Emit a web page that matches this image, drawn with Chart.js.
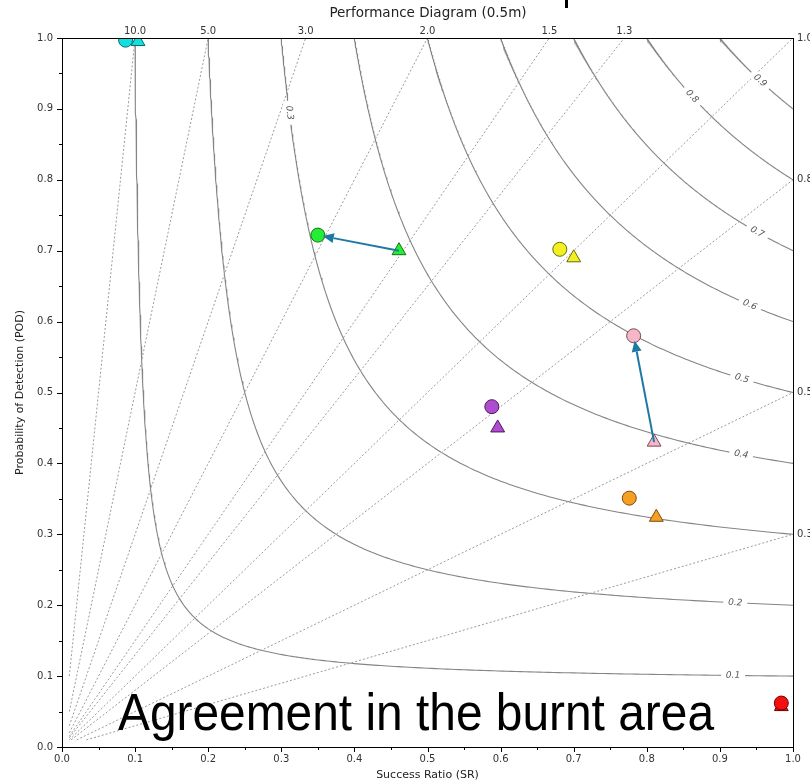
<!DOCTYPE html>
<html>
<head>
<meta charset="utf-8">
<script src="https://cdn.jsdelivr.net/npm/chart.js@4.4.1/dist/chart.umd.min.js"></script>
<style>
  html, body { margin: 0; padding: 0; background: #fff; }
  #wrap { width: 810px; height: 783px; position: relative; }
</style>
</head>
<body>
<div id="wrap"><canvas id="chart" width="810" height="783"></canvas></div>
<script>
// Levels of the background diagram
const csiLevels = [0.1, 0.2, 0.3, 0.4, 0.5, 0.6, 0.7, 0.8, 0.9];
const csiLabelSR = [0.918, 0.921, 0.311, 0.929, 0.930, 0.941, 0.951, 0.862, 0.955];
const biasLevels = [10.0, 5.0, 3.0, 2.0, 1.5, 1.3, 1.0, 0.8, 0.5, 0.3];
const biasLabels = ["10.0", "5.0", "3.0", "2.0", "1.5", "1.3", "1.0", "0.8", "0.5", "0.3"];

// Experiments (circle = one run, triangle = the other)
const groups = ["cyan", "green", "yellow", "pink", "purple", "orange", "red"];
const fillColors = ["#10e0e0", "#22ee33", "#f2f020", "#f6b8c8", "#b04cd0", "#f5a020", "#f41010"];
const edgeColors = ["#0a6a70", "#1a6a1a", "#6a6a10", "#7a4a58", "#4a1a5a", "#7a4a10", "#700000"];
const circleSR  = [0.087, 0.350, 0.681, 0.782, 0.588, 0.776, 0.984];
const circlePOD = [0.997, 0.722, 0.702, 0.580, 0.480, 0.351, 0.062];
const triSR     = [0.104, 0.461, 0.700, 0.810, 0.596, 0.813, 0.984];
const triPOD    = [0.995, 0.700, 0.690, 0.430, 0.450, 0.324, 0.057];
const arrowGroups = ["green", "pink"];

const xTicks = [0, 0.1, 0.2, 0.3, 0.4, 0.5, 0.6, 0.7, 0.8, 0.9, 1.0];
const yTicks = [0, 0.1, 0.2, 0.3, 0.4, 0.5, 0.6, 0.7, 0.8, 0.9, 1.0];

function csiPod(c, sr) {
  return 1 / (1 / c + 1 - 1 / sr);
}

const datasets = [];

// CSI curves
csiLevels.forEach(function (c) {
  const pts = [];
  const n = 300;
  for (let i = 0; i <= n; i++) {
    const t = i / n;
    const sr = c + (1 - c) * t * t * t;
    pts.push({ x: sr, y: csiPod(c, sr) });
  }
  datasets.push({
    type: "line",
    data: pts,
    borderColor: "#858585",
    borderWidth: 1.1,
    pointRadius: 0,
    fill: false,
    tension: 0,
    order: 10,
    kind: "line",
  });
});

// Bias lines
biasLevels.forEach(function (b) {
  const start = b >= 1 ? { x: 0.01, y: 0.01 * b } : { x: 0.01 / b, y: 0.01 };
  const end = b >= 1 ? { x: 1 / b, y: 1 } : { x: 1, y: b };
  datasets.push({
    type: "line",
    data: [start, end],
    borderColor: "#9a9a9a",
    borderWidth: 1,
    borderDash: [2, 2],
    pointRadius: 0,
    fill: false,
    order: 9,
    kind: "line",
  });
});

// Triangles, then circles on top
groups.forEach(function (g, i) {
  datasets.push({
    type: "scatter",
    data: [{ x: triSR[i], y: triPOD[i] }],
    pointStyle: "triangle",
    pointRadius: 8,
    backgroundColor: fillColors[i],
    borderColor: edgeColors[i],
    borderWidth: 1,
    order: 2,
    kind: "marker",
  });
});
groups.forEach(function (g, i) {
  datasets.push({
    type: "scatter",
    data: [{ x: circleSR[i], y: circlePOD[i] }],
    pointStyle: "circle",
    pointRadius: 7,
    backgroundColor: fillColors[i],
    borderColor: edgeColors[i],
    borderWidth: 1,
    order: 1,
    kind: "marker",
  });
});

let labelsDrawn = false;

const diagramPlugin = {
  id: "diagram",
  beforeDatasetsDraw() {
    labelsDrawn = false;
  },
  beforeDatasetDraw(chart, args) {
    const ds = chart.data.datasets[args.index];
    if (ds.kind !== "marker" || labelsDrawn) return;
    labelsDrawn = true;
    const ctx = chart.ctx;
    const xs = chart.scales.x;
    const ys = chart.scales.y;
    // CSI contour labels (inline, with the curve cut under them)
    ctx.save();
    ctx.font = "italic 9px 'DejaVu Sans'";
    ctx.textAlign = "center";
    ctx.textBaseline = "middle";
    csiLevels.forEach(function (c, i) {
      const sr = csiLabelSR[i];
      const px = xs.getPixelForValue(sr);
      const py = ys.getPixelForValue(csiPod(c, sr));
      const ax = xs.getPixelForValue(sr - 0.003), ay = ys.getPixelForValue(csiPod(c, sr - 0.003));
      const bx = xs.getPixelForValue(sr + 0.003), by = ys.getPixelForValue(csiPod(c, sr + 0.003));
      const ang = Math.atan2(by - ay, bx - ax);
      ctx.save();
      ctx.translate(px, py);
      ctx.rotate(ang);
      ctx.fillStyle = "#fff";
      ctx.fillRect(-12, -5, 24, 10);
      ctx.fillStyle = "#555";
      ctx.fillText(c.toFixed(1), 0, 0);
      ctx.restore();
    });
    ctx.restore();
  },
  afterDatasetsDraw(chart) {
    const ctx = chart.ctx;
    const xs = chart.scales.x;
    const ys = chart.scales.y;
    const area = chart.chartArea;

    // arrows from triangle to circle
    ctx.save();
    ctx.strokeStyle = "#1f78a4";
    ctx.fillStyle = "#1f78a4";
    ctx.lineWidth = 2;
    arrowGroups.forEach(function (g) {
      const i = groups.indexOf(g);
      const x0 = xs.getPixelForValue(triSR[i]), y0 = ys.getPixelForValue(triPOD[i]);
      const x1 = xs.getPixelForValue(circleSR[i]), y1 = ys.getPixelForValue(circlePOD[i]);
      const ang = Math.atan2(y1 - y0, x1 - x0);
      const tipX = x1 - Math.cos(ang) * 5, tipY = y1 - Math.sin(ang) * 5;
      const headLen = 11, headW = 5;
      const bx = tipX - Math.cos(ang) * headLen, by = tipY - Math.sin(ang) * headLen;
      ctx.beginPath();
      ctx.moveTo(x0, y0);
      ctx.lineTo(bx, by);
      ctx.stroke();
      ctx.beginPath();
      ctx.moveTo(tipX, tipY);
      ctx.lineTo(bx - Math.sin(ang) * headW, by + Math.cos(ang) * headW);
      ctx.lineTo(bx + Math.sin(ang) * headW, by - Math.cos(ang) * headW);
      ctx.closePath();
      ctx.fill();
    });
    ctx.restore();

    // frame
    ctx.save();
    ctx.strokeStyle = "#000";
    ctx.lineWidth = 1;
    ctx.strokeRect(Math.round(area.left) + 0.5, Math.round(area.top) + 0.5,
      Math.round(area.right - area.left), Math.round(area.bottom - area.top));

    // major and minor ticks on the left and bottom
    ctx.beginPath();
    for (let k = 0; k <= 20; k++) {
      const v = k / 20;
      const len = k % 2 === 0 ? 5 : 3;
      const px = Math.round(xs.getPixelForValue(v)) + 0.5;
      ctx.moveTo(px, area.bottom);
      ctx.lineTo(px, area.bottom + len);
      const py = Math.round(ys.getPixelForValue(v)) + 0.5;
      ctx.moveTo(area.left, py);
      ctx.lineTo(area.left - len, py);
    }
    ctx.stroke();

    // bias labels
    ctx.font = "10px 'DejaVu Sans'";
    ctx.fillStyle = "#333";
    biasLevels.forEach(function (b, i) {
      if (b > 1) {
        ctx.textAlign = "center";
        ctx.textBaseline = "alphabetic";
        ctx.fillText(biasLabels[i], xs.getPixelForValue(1 / b), area.top - 4);
      } else {
        ctx.textAlign = "left";
        ctx.textBaseline = "middle";
        ctx.fillText(biasLabels[i], area.right + 4, ys.getPixelForValue(b));
      }
    });

    // titles
    ctx.fillStyle = "#222";
    ctx.font = "13.5px 'DejaVu Sans'";
    ctx.textAlign = "center";
    ctx.textBaseline = "middle";
    ctx.fillText("Performance Diagram (0.5m)", 428, 13);
    ctx.font = "11px 'DejaVu Sans'";
    ctx.fillText("Success Ratio (SR)", (area.left + area.right) / 2, 775);
    ctx.save();
    ctx.translate(20, (area.top + area.bottom) / 2);
    ctx.rotate(-Math.PI / 2);
    ctx.fillText("Probability of Detection (POD)", 0, 0);
    ctx.restore();

    // overlay caption (slightly narrow face, fitted to its width)
    ctx.fillStyle = "#000";
    ctx.font = "52px 'Liberation Sans'";
    ctx.textAlign = "left";
    ctx.textBaseline = "alphabetic";
    const caption = "Agreement in the burnt area";
    const sx = 596 / ctx.measureText(caption).width;
    ctx.translate(118, 730);
    ctx.scale(sx, 1);
    ctx.fillText(caption, 0, 0);
    ctx.restore();

    // fragment of slide heading cut by the top edge
    ctx.save();
    ctx.fillStyle = "#000";
    ctx.fillRect(565, 0, 3, 8);
    ctx.restore();
  },
};

new Chart(document.getElementById("chart"), {
  type: "scatter",
  data: { datasets: datasets },
  options: {
    responsive: false,
    animation: false,
    events: [],
    layout: { padding: { left: 0, top: 38, right: 17, bottom: 0 } },
    plugins: {
      legend: { display: false },
      tooltip: { enabled: false },
      title: { display: false },
    },
    scales: {
      x: {
        type: "linear",
        min: 0,
        max: 1,
        afterBuildTicks: function (scale) {
          scale.ticks = xTicks.map(function (v) { return { value: v }; });
        },
        afterFit: function (scale) { scale.height = 36; },
        grid: { display: false, drawTicks: false },
        border: { display: false },
        ticks: {
          padding: 6,
          color: "#333",
          font: { family: "DejaVu Sans", size: 10 },
          maxRotation: 0,
          callback: function (v) { return Number(v).toFixed(1); },
        },
      },
      y: {
        type: "linear",
        min: 0,
        max: 1,
        afterBuildTicks: function (scale) {
          scale.ticks = yTicks.map(function (v) { return { value: v }; });
        },
        afterFit: function (scale) { scale.width = 62; },
        grid: { display: false, drawTicks: false },
        border: { display: false },
        ticks: {
          padding: 9,
          color: "#333",
          font: { family: "DejaVu Sans", size: 10 },
          callback: function (v) { return Number(v).toFixed(1); },
        },
      },
    },
  },
  plugins: [diagramPlugin],
});
</script>
</body>
</html>
